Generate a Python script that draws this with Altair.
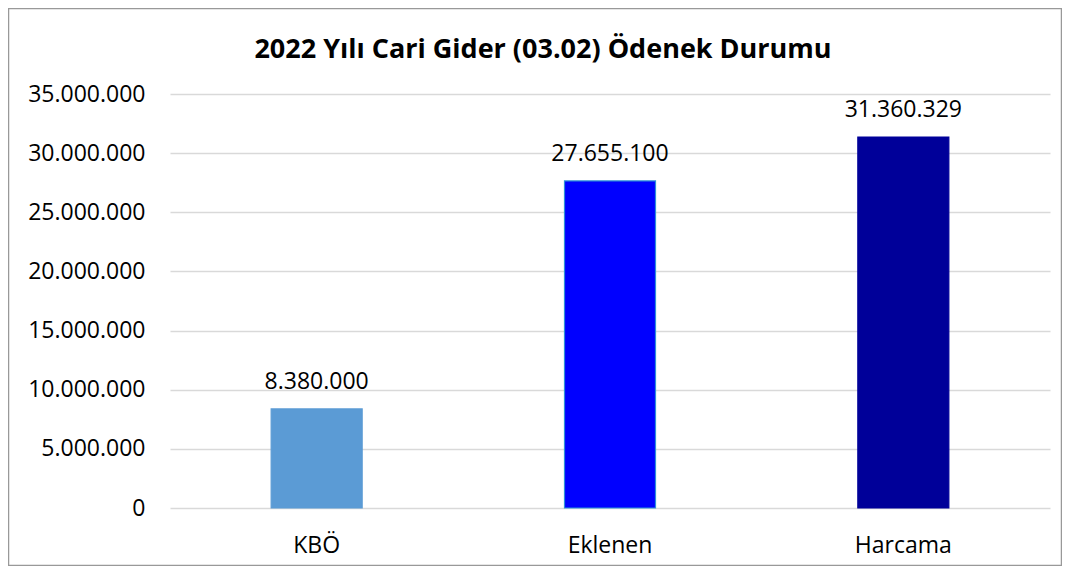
import altair as alt
import pandas as pd

categories = ["KBÖ", "Eklenen", "Harcama"]
values = [8380000, 27655100, 31360329]
labels = ["8.380.000", "27.655.100", "31.360.329"]
fill_colors = ["#5B9BD5", "#0000FF", "#000099"]
stroke_colors = ["#5B9BD5", "#2E8FD8", "#000099"]
y_ticks = [0, 5000000, 10000000, 15000000, 20000000, 25000000, 30000000, 35000000]
title_text = "2022 Yılı Cari Gider (03.02) Ödenek Durumu"

df = pd.DataFrame({"cat": categories, "value": values, "label": labels})

FONT = "Open Sans"
label_expr = "replace(format(datum.value, ','), regexp(',', 'g'), '.')"

x_enc = alt.X(
    "cat:N",
    sort=categories,
    title=None,
    scale=alt.Scale(paddingInner=0, paddingOuter=0),
    axis=alt.Axis(
        labelAngle=0, ticks=False, tickSize=0, domain=False, grid=False,
        labelFont=FONT, labelFontSize=23, labelColor="#000000",
        labelBaseline="alphabetic", labelPadding=44,
    ),
)
y_enc = alt.Y(
    "value:Q",
    title=None,
    scale=alt.Scale(domain=[0, 35000000], nice=False, zero=True),
    axis=alt.Axis(
        values=y_ticks, labelExpr=label_expr, ticks=False, tickSize=0, domain=False,
        grid=True, gridColor="#D9D9D9", gridWidth=1.5,
        labelFont=FONT, labelFontSize=23, labelColor="#000000", labelPadding=25,
        labelBaseline="middle",
    ),
)

base = alt.Chart(df)

bars = base.mark_bar(size=91, strokeWidth=1.2).encode(
    x=x_enc,
    y=y_enc,
    color=alt.Color("cat:N", scale=alt.Scale(domain=categories, range=fill_colors), legend=None),
    stroke=alt.Stroke("cat:N", scale=alt.Scale(domain=categories, range=stroke_colors), legend=None),
)

texts = base.mark_text(
    baseline="alphabetic", dy=-20, font=FONT, fontSize=23, color="#000000"
).encode(x=x_enc, y=y_enc, text="label:N")

title = alt.Chart(alt.Data(values=[{"t": title_text}])).mark_text(
    font=FONT, fontSize=27, fontWeight="bold", color="#000000",
    align="center", baseline="alphabetic",
).encode(x=alt.value(373), y=alt.value(-36), text="t:N")

frame = alt.Chart(alt.Data(values=[{"f": 1}])).mark_rect(
    fill="transparent", stroke="#999999", strokeWidth=1.5,
).encode(x=alt.value(-161.5), x2=alt.value(891.5), y=alt.value(-85.5), y2=alt.value(471.5))

chart = alt.layer(frame, bars, texts, title).properties(
    width=880,
    height=414,
    padding={"left": 162, "top": 86, "right": 12, "bottom": 58},
    autosize=alt.AutoSizeParams(type="none"),
    background="#FFFFFF",
).configure_view(strokeWidth=0)

chart.save("out.html", embed_options={"renderer": "svg", "actions": False})
